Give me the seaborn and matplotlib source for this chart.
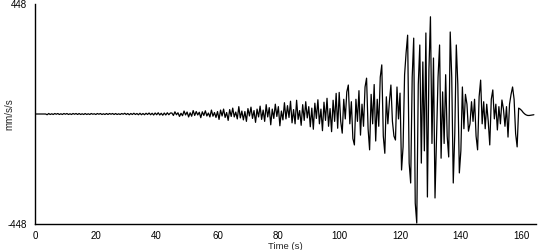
import numpy as np
import pandas as pd
import matplotlib
matplotlib.use("Agg")
import matplotlib.pyplot as plt
import seaborn as sns

# sampling of the trace (seconds)
sample_interval = 0.5
start_time = 0.0

# velocity samples (mm/s/s), segment by segment
quiet = [0, 0, 0, 0, 0, 0, 0, 0, -3]
pre_event = [
    2, -2, 1, -2, 2, -1, 2, -2, 1, -2,
    2, -1, 2, -2, 1, -2, 2, -1, 2, -2,
    2, -2, 1, -2, 2, -2, 1, -2, 2, -1,
    1, -2, 2, -1, 2, -2, 1, -2, 2, -2,
    2, -1, 2, -2, 2, -2, 1, -2, 2, -1,
    3, -2, 2, -3, 2, -2, 3, -2, 2, -3,
    3, -3, 2, -3, 3, -2, 4, -3, 3, -4,
    4, -3, 5, -4, 3, -5, 4, -4, 5, -3,
    4,
]
onset = [
    4, -6, 9, -3, 5, -10, 3, -7, 12, -4,
    8, -12, 5, -9, 14, -6, 10, -4, 7, -15,
    9, -6, 13, -8, 4, -12, 16, -9, 6, -14,
]
build_up = [
    10, -22, 16, -8, 20, -14, 6, -26, 18, -10,
    24, -12, 8, -20, 30, -16, 12, -24, 10, -30,
    22, -8, 28, -18, 14, -34, 20, -12, 32, -22,
]
growth = [
    16, -30, 38, -12, 26, -44, 20, -18, 40, -10,
    30, -48, 12, -24, 46, -20, 34, -14, 52, -36,
    18, -40, 56, -22, 14, -46, 38, -26, 50, -16,
]
pre_peak = [
    30, -52, 24, -62, 44, -18, 58, -40, 20, -68,
    48, -26, 64, -50, 22, -72, 56, -30, 84, -58,
]
strong_a = [
    88, -30, -78, 60, -20, 90, 118, -40, 50, -100,
    -126, 60, -30, 95, -86, 40, -50, 110, 146, -60,
    -146, 80, -40, 120, -110, 60, -50, 150, 200, -90,
    -160, 70, -40, 50, 118, -30, -90, -106, 110, -20,
]
strong_b = [
    85, -228, -134, 160, 250, 321, -200, -281, 150, 309,
    -363, -444, 120, 281, -200, 212, -150, 330, -338, 180,
    396, -120, 228, -342, -100, 150, 281, -180, 90, -120,
    160, -90, -175, 334, 150, -281, -80, 281, 120, -240,
]
coda = [
    -150, 110, -60, 80, 40, -70, -40, 50, -30, 60,
    -90, -146, 70, 138, -40, 50, -60, 40, -30, -126,
    60, 98, -20, 40, -65, 30, -40, 57, 20, -50,
    30, -94, 40, 80,
]
tail = [110, 60, -80, -134, 24, 20, 14, 6, 0, -4, -6, -6, -5, -4, -3]

velocity = np.array(quiet + pre_event + onset + build_up + growth + pre_peak
                    + strong_a + strong_b + coda + tail, dtype=float)
time_s = start_time + sample_interval * np.arange(len(velocity))

x_ticks = [0, 20, 40, 60, 80, 100, 120, 140, 160]
y_ticks = [-448, 448]

df = pd.DataFrame({"Time (s)": time_s, "mm/s/s": velocity})

sns.set_style("white")
plt.rcParams["font.family"] = ["Liberation Sans", "DejaVu Sans"]

fig = plt.figure(figsize=(5.5, 2.5), dpi=100)
ax = fig.add_axes([35 / 550, 1 - 224 / 250, (536 - 35) / 550, 220 / 250])

sns.lineplot(data=df, x="Time (s)", y="mm/s/s", ax=ax, color="black",
             linewidth=0.9, estimator=None, sort=False)

ax.set_xlim(0, 164.7)
ax.set_ylim(-448, 448)
ax.set_xticks(x_ticks)
ax.set_yticks(y_ticks)
ax.set_yticklabels([str(v) for v in y_ticks])
for s in ["top", "right"]:
    ax.spines[s].set_visible(False)
for s in ["left", "bottom"]:
    ax.spines[s].set_color("black")
    ax.spines[s].set_linewidth(1.0)
ax.tick_params(axis="both", direction="out", length=4, width=1, color="black",
               labelsize=7, labelcolor="black", pad=2)
ax.tick_params(axis="x", pad=1)
ax.set_xlabel("Time (s)", fontsize=6.8)
ax.xaxis.set_label_coords(0.5, -0.08)
ax.set_ylabel("mm/s/s", fontsize=7)
ax.yaxis.set_label_coords(-0.042, 0.5)
ax.grid(False)

fig.savefig("out.png", dpi=100)
